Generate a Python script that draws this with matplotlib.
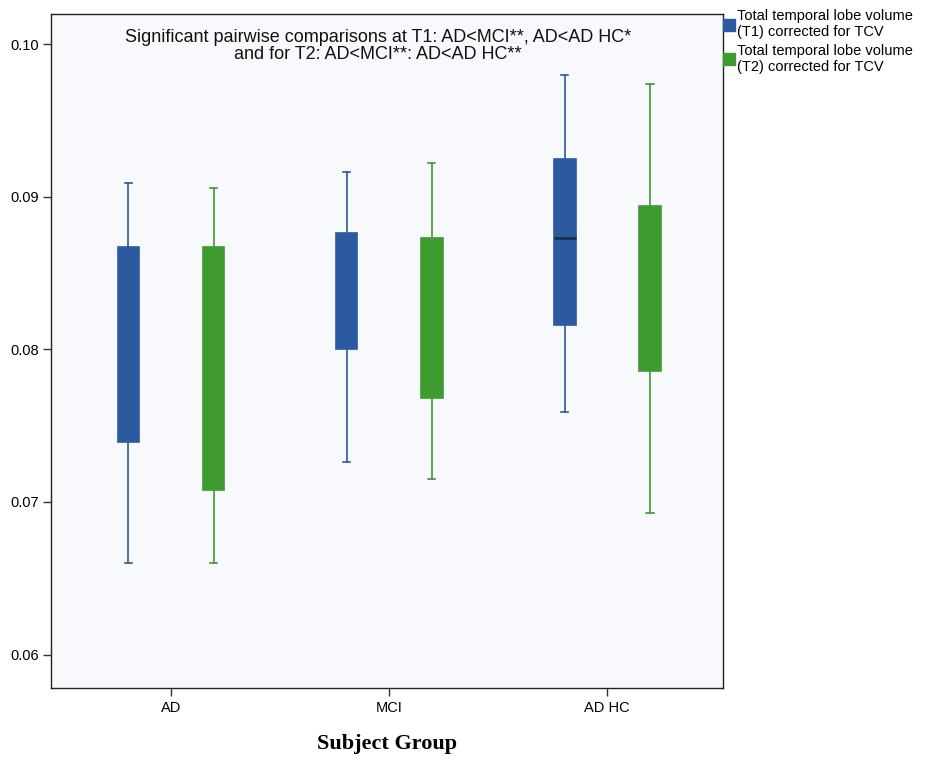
import matplotlib.pyplot as plt
from matplotlib.patches import Patch

# values (whisker low, Q1, median, Q3, whisker high)
groups = ["AD", "MCI", "AD HC"]
t1_low = [0.0660, 0.0726, 0.0759]
t1_q1 = [0.0739, 0.0800, 0.0816]
t1_med = [0.0800, 0.0838, 0.0873]
t1_q3 = [0.0867, 0.0876, 0.0925]
t1_high = [0.0909, 0.0916, 0.0980]

t2_low = [0.0660, 0.0715, 0.0693]
t2_q1 = [0.0708, 0.0768, 0.0786]
t2_med = [0.0790, 0.0820, 0.0840]
t2_q3 = [0.0867, 0.0873, 0.0894]
t2_high = [0.0906, 0.0922, 0.0974]

legend_labels = ["Total temporal lobe volume\n(T1) corrected for TCV",
                 "Total temporal lobe volume\n(T2) corrected for TCV"]

blue = "#2b5aa0"
green = "#3f9a2f"

plt.rcParams['font.family'] = ['Liberation Sans', 'DejaVu Sans']

fig = plt.figure(figsize=(9.46, 7.62), dpi=100)
ax = fig.add_axes([0.054, 0.097, 0.71, 0.885])
ax.set_facecolor("#f8f9fc")


def make_stats(low, q1, med, q3, high):
    return [dict(whislo=a, q1=b, med=c, q3=d, whishi=e, fliers=[])
            for a, b, c, d, e in zip(low, q1, med, q3, high)]


pos = list(range(len(groups)))
offset = 0.195
width = 0.10

for stats, shift, col in [
        (make_stats(t1_low, t1_q1, t1_med, t1_q3, t1_high), -offset, blue),
        (make_stats(t2_low, t2_q1, t2_med, t2_q3, t2_high), offset, green)]:
    ax.bxp(stats, positions=[p + shift for p in pos], widths=width,
           patch_artist=True, showfliers=False,
           boxprops=dict(facecolor=col, edgecolor=col, linewidth=1.2),
           whiskerprops=dict(color=col, linewidth=1.2),
           capprops=dict(color=col, linewidth=1.2),
           medianprops=dict(color=col, linewidth=1.2),
           capwidths=0.035)

# the AD HC T1 box shows a dark median line
ax.hlines(t1_med[2], 2 - offset - width / 2, 2 - offset + width / 2,
          color="#1a2a50", linewidth=2, zorder=5)

ax.set_xlim(-0.55, 2.53)
ax.set_ylim(0.0578, 0.1020)
ax.set_xticks(pos)
ax.set_xticklabels(groups, fontsize=10.5)
ax.set_yticks([0.06, 0.07, 0.08, 0.09, 0.10])
ax.set_yticklabels(["0.06", "0.07", "0.08", "0.09", "0.10"], fontsize=10.5)
ax.tick_params(axis='both', direction='out', length=6, width=1, color="#333333")
ax.tick_params(axis='y', pad=3)
ax.tick_params(axis='x', pad=3)
for s in ax.spines.values():
    s.set_color("#222222")
    s.set_linewidth(1)

ax.text(0.487, 0.978,
        "Significant pairwise comparisons at T1: AD<MCI**, AD<AD HC*\n"
        "and for T2: AD<MCI**: AD<AD HC**",
        transform=ax.transAxes, ha='center', va='top', fontsize=13,
        linespacing=1.0, color="#111111")

ax.set_xlabel("Subject Group", family=['Liberation Serif', 'DejaVu Serif'],
              fontweight='bold', fontsize=16, labelpad=14)

handles = [Patch(facecolor=blue, edgecolor=blue), Patch(facecolor=green, edgecolor=green)]
fig.legend(handles, legend_labels, loc='upper left', bbox_to_anchor=(0.763, 0.99),
           frameon=False, fontsize=10.5, handlelength=0.8, handleheight=0.9,
           handletextpad=0.15, labelspacing=0.3, borderaxespad=0, borderpad=0.1)

fig.savefig("out.png", dpi=100, facecolor="white")
